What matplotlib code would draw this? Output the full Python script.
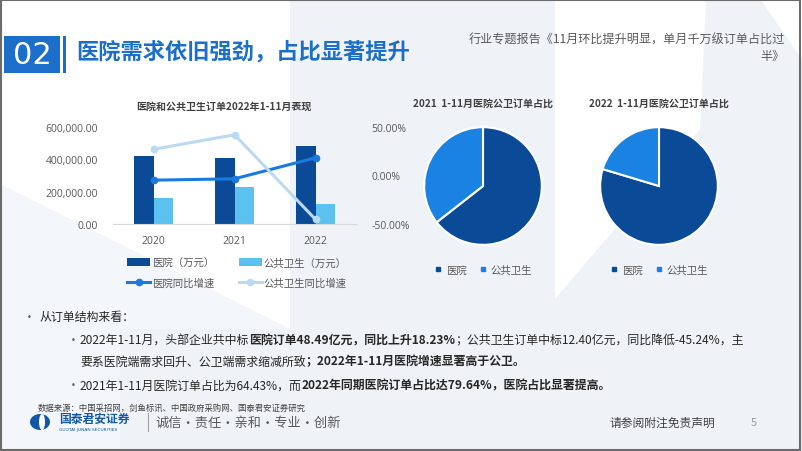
import matplotlib
matplotlib.use("Agg")
import matplotlib.pyplot as plt
from matplotlib.patches import Polygon, Rectangle, Ellipse
from matplotlib.lines import Line2D
from matplotlib.ticker import FuncFormatter

plt.rcParams['font.family'] = ['Noto Sans CJK SC', 'DejaVu Sans']

# ---- data ----
years = ['2020', '2021', '2022']
hospital = [418000, 410100, 484900]        # 万元
public_health = [160000, 226400, 124000]   # 万元
hospital_yoy = [-4.8, -3.4, 18.23]         # %
public_yoy = [27.0, 42.0, -45.24]          # %

pie_labels = ['医院', '公共卫生']
pie_2021 = [64.43, 35.57]
pie_2022 = [79.64, 20.36]

W, H = 802, 452
DARK = '#0b4a96'
LIGHT_BAR = '#5cc1ef'
LINE_HOSP = '#1a7ae0'
LINE_PUB = '#bcd9f2'
PIE_PUB = '#1a82e2'
GRAY = '#595959'
BLUE = '#1b6fcb'

fig = plt.figure(figsize=(W / 100, H / 100), dpi=100)
fig.patch.set_facecolor('white')


def fx(x):
    return x / W


def fy(y):
    return 1 - y / H


def poly(pts, color, z=0):
    fig.add_artist(Polygon([(fx(a), fy(b)) for a, b in pts], closed=True,
                           facecolor=color, edgecolor='none',
                           transform=fig.transFigure, zorder=z))


# background shapes
BG = '#eff3f8'
poly([(290, 0), (555, 0), (555, 452), (290, 452)], BG)
poly([(0, 185), (290, 330), (290, 452), (0, 452)], '#f3f6fa')
poly([(120, 330), (290, 330), (290, 452), (120, 452)], BG)
poly([(555, 300), (700, 130), (706, 0), (802, 0), (802, 452), (555, 452)], BG)
poly([(760, 0), (802, 0), (802, 60)], 'white')
# frame
fig.add_artist(Rectangle((0.001, 0.002), 0.997, 0.995, fill=False, edgecolor='#6b6b6b',
                         linewidth=1.5, transform=fig.transFigure, zorder=10))

# ---- header ----
fig.add_artist(Rectangle((fx(4), fy(74)), fx(56), 37 / H, facecolor=BLUE, edgecolor='none',
                         transform=fig.transFigure, zorder=2))
fig.add_artist(Rectangle((fx(63), fy(74)), fx(3), 37 / H, facecolor=BLUE, edgecolor='none',
                         transform=fig.transFigure, zorder=2))
fig.text(fx(32), fy(56), '02', color='white', fontsize=22, ha='center', va='center',
         family=['DejaVu Sans'], zorder=3)
fig.text(fx(76), fy(52), '医院需求依旧强劲，占比显著提升', color=BLUE, fontsize=16,
         fontweight='bold', ha='left', va='center', zorder=3)
fig.text(fx(785), fy(40), '行业专题报告《11月环比提升明显，单月千万级订单占比过', color=GRAY,
         fontsize=8.7, ha='right', va='center')
fig.text(fx(785), fy(56), '半》', color=GRAY, fontsize=8.7, ha='right', va='center')

# ---- bar + line chart ----
ax = fig.add_axes([fx(113), fy(225), (356 - 113) / W, (225 - 128) / H])
ax.patch.set_alpha(0)
xs = range(len(years))
bw = 0.235
ax.bar([x - bw / 2 for x in xs], hospital, bw, color=DARK, label='医院（万元）', zorder=2)
ax.bar([x + bw / 2 for x in xs], public_health, bw, color=LIGHT_BAR, label='公共卫生（万元）', zorder=2)
ax.set_xlim(-0.5, 2.5)
ax.set_ylim(0, 600000)
ax.set_yticks([0, 200000, 400000, 600000])
ax.yaxis.set_major_formatter(FuncFormatter(lambda v, p: f'{v:,.2f}'))
ax.set_xticks(list(xs))
ax.set_xticklabels(years)
for s in ['top', 'right', 'left']:
    ax.spines[s].set_visible(False)
ax.spines['bottom'].set_color('#d9d9d9')
ax.tick_params(axis='both', length=0, labelsize=7.5, colors=GRAY, labelfontfamily='Open Sans')
ax.tick_params(axis='y', pad=11)
ax.tick_params(axis='x', pad=8)

ax2 = ax.twinx()
ax2.patch.set_alpha(0)
ax2.plot(list(xs), hospital_yoy, color=LINE_HOSP, lw=2.2, marker='o', ms=4.5, label='医院同比增速', zorder=3)
ax2.plot(list(xs), public_yoy, color=LINE_PUB, lw=2.2, marker='o', ms=4.5, label='公共卫生同比增速', zorder=3)
ax2.set_ylim(-50, 50)
ax2.set_yticks([-50, 0, 50])
ax2.yaxis.set_major_formatter(FuncFormatter(lambda v, p: f'{v:.2f}%'))
for s in ax2.spines.values():
    s.set_visible(False)
ax2.tick_params(axis='y', length=0, labelsize=7.5, colors=GRAY, pad=11, labelfontfamily='Open Sans')

fig.text(fx(224), fy(107), '医院和公共卫生订单2022年1-11月表现', fontsize=7.2, fontweight='bold',
         color='#404040', ha='center', va='center')

h1, l1 = ax.get_legend_handles_labels()
h2, l2 = ax2.get_legend_handles_labels()
handles = [h1[0], h2[0], h1[1], h2[1]]
labels = [l1[0], l2[0], l1[1], l2[1]]
leg = ax.legend(handles, labels, ncol=2, loc='upper left', frameon=False, fontsize=7.5,
                bbox_to_anchor=(fx(118), fy(249)), bbox_transform=fig.transFigure,
                handlelength=2.2, handletextpad=0.2, columnspacing=2.3, labelspacing=0.95)
for t in leg.get_texts():
    t.set_color(GRAY)


# ---- pies ----
def draw_pie(cx, title, values):
    pa = fig.add_axes([fx(cx - 60), fy(187 + 60), 120 / W, 120 / H])
    pa.pie(values, colors=[DARK, PIE_PUB], startangle=90, counterclock=False,
           wedgeprops=dict(edgecolor='white', linewidth=1.5))
    pa.set_xlim(-1.02, 1.02)
    pa.set_ylim(-1.02, 1.02)
    fig.text(fx(cx), fy(104), title, fontsize=7.2, fontweight='bold', color='#404040',
             ha='center', va='center')
    hs = [Line2D([], [], ls='none', marker='s', ms=3.5, color=c) for c in [DARK, PIE_PUB]]
    lg = pa.legend(hs, pie_labels, ncol=2, loc='center', frameon=False, fontsize=7.5,
                   bbox_to_anchor=(fx(cx), fy(271)), bbox_transform=fig.transFigure,
                   handlelength=0.8, handletextpad=0.3, columnspacing=1.2)
    for t in lg.get_texts():
        t.set_color(GRAY)


draw_pie(483, '2021  1-11月医院公卫订单占比', pie_2021)
draw_pie(659, '2022  1-11月医院公卫订单占比', pie_2022)

# ---- bullet text ----
renderer = fig.canvas.get_renderer()
TXT = '#262626'


def runs(x, y, parts, size=8.6):
    for txt, bold in parts:
        t = fig.text(fx(x), fy(y), txt, fontsize=size, color=TXT, va='center', ha='left',
                     fontweight='bold' if bold else 'normal')
        x += t.get_window_extent(renderer).width


def bullet(x, y):
    fig.text(fx(x), fy(y), '•', fontsize=6, color=GRAY, va='center', ha='center',
             family=['DejaVu Sans'])


bullet(29, 317)
runs(40, 317, [('从订单结构来看：', False)])
bullet(73, 341)
runs(80, 341, [('2022年1-11月，头部企业共中标', False),
               ('医院订单48.49亿元，同比上升18.23%', True),
               ('；公共卫生订单中标12.40亿元，同比降低-45.24%，主', False)])
runs(80, 362, [('要系医院端需求回升、公卫端需求缩减所致', False),
               ('；2022年1-11月医院增速显著高于公卫。', True)])
bullet(73, 386)
runs(80, 386, [('2021年1-11月医院订单占比为64.43%，而', False),
               ('2022年同期医院订单占比达79.64%，医院占比显著提高。', True)])

# ---- footer ----
fig.text(fx(38), fy(408), '数据来源：中国采招网，剑鱼标讯、中国政府采购网、国泰君安证券研究',
         fontsize=6, color='#404040', va='center')
fig.add_artist(Ellipse((fx(40), fy(423)), 20 / W, 16 / H, facecolor='#1358a8',
                       edgecolor='none', transform=fig.transFigure, zorder=3))
fig.add_artist(Ellipse((fx(42), fy(423)), 6 / W, 16 / H, facecolor='white',
                       edgecolor='none', transform=fig.transFigure, zorder=4))
fig.text(fx(59), fy(419), '国泰君安证券', fontsize=8.5, fontweight='bold', color='#1358a8', va='center')
fig.text(fx(59), fy(430), 'GUOTAI JUNAN SECURITIES', fontsize=3.2, color='#1358a8', va='center',
         family=['DejaVu Sans'])
fig.add_artist(Line2D([fx(148), fx(148)], [fy(414), fy(432)], color='#a0a0a0', lw=0.8,
                      transform=fig.transFigure))
fig.text(fx(155), fy(423), '诚信·责任·亲和·专业·创新', fontsize=9.5, color=GRAY, va='center')
fig.text(fx(610), fy(423), '请参阅附注免责声明', fontsize=8.5, color='#404040', va='center')
fig.text(fx(751), fy(423), '5', fontsize=8, color='#9a9a9a', va='center')

fig.savefig('out.png', dpi=100)
